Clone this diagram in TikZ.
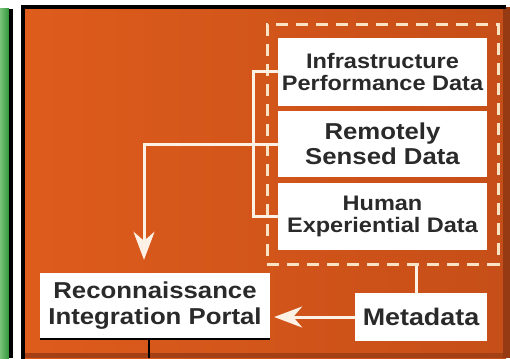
\documentclass[tikz,border=0pt]{standalone}
\usepackage{fontspec}
\newfontfamily\boxfont[FakeStretch=1.12]{Liberation Sans}
\usetikzlibrary{arrows.meta,positioning}
\definecolor{panelorange}{RGB}{222,92,28}
\definecolor{paneldark}{RGB}{198,78,24}
\definecolor{dashcream}{RGB}{250,226,196}
\definecolor{wirewhite}{RGB}{252,241,228}
\definecolor{ink}{RGB}{42,42,42}
\definecolor{rim}{RGB}{150,58,20}
\newcommand\boxsize[2]{\fontsize{#1}{#2}\selectfont}

\begin{document}
\begin{tikzpicture}[x=1pt,y=-1pt,
    databox/.style={fill=white, text=ink, align=center, inner sep=0pt},
    link/.style={draw=wirewhite, line width=3pt},
    feed/.style={link, -{Stealth[length=28pt,width=21pt,inset=9pt]}}
]
\useasboundingbox (0,0) rectangle (510,358);

\fill[left color={rgb,255:red,120;green,195;blue,120}, right color={rgb,255:red,48;green,150;blue,60}] (0,9) rectangle (9,358);
\fill[black] (9,9) rectangle (13,358);

\fill[left color=panelorange, right color=paneldark] (23,9) rectangle (506,358);
\fill[rim] (503,7) rectangle (510,358);
\fill[rim!70!paneldark] (25,353) rectangle (503,358);
\draw[black, line width=4pt] (23,360) -- (23,7) -- (506,7);

\node[draw=dashcream, line width=3pt, dash pattern=on 12pt off 8pt, minimum width=231pt, minimum height=239pt] (group) at (382.5,144.5) {};

\node[databox, font=\boxfont\bfseries\boxsize{21}{22}, minimum width=209pt, minimum height=68pt] (infra) at (382.5,72) {Infrastructure\\Performance Data};
\node[databox, font=\boxfont\bfseries\boxsize{23}{25}, minimum width=209pt, minimum height=66pt] (remote) at (382.5,144) {Remotely\\Sensed Data};
\node[databox, font=\boxfont\bfseries\boxsize{21}{22}, minimum width=209pt, minimum height=67pt] (human) at (382.5,216.5) {Human\\Experiential Data};

\node[databox, font=\boxfont\bfseries\boxsize{24}{26}, minimum width=132pt, minimum height=48pt] (meta) at (421,317) {Metadata};
\node[databox, font=\boxfont\bfseries\boxsize{23}{26}, minimum width=230pt, minimum height=66pt] (recon) at (155,306) {Reconnaissance\\Integration Portal};
\draw[black, line width=2pt] (recon.south west) -- (recon.south east);

\coordinate (exit) at (149,358);
\coordinate (bend) at (253,144);
\coordinate (drop) at (144,144);

\draw[link] (infra.west) -| (bend) |- (human.west);
\draw[feed, shorten >=13pt] (remote.west) -- (drop) -- (drop |- recon.north);
\draw[feed, shorten >=4pt] (meta.west) -- (meta.west -| recon.east);
\draw[link] (group.south -| 416,0) -- (meta.north -| 416,0);
\draw[black, line width=2pt] (recon.south -| exit) -- (exit);

\end{tikzpicture}
\end{document}
